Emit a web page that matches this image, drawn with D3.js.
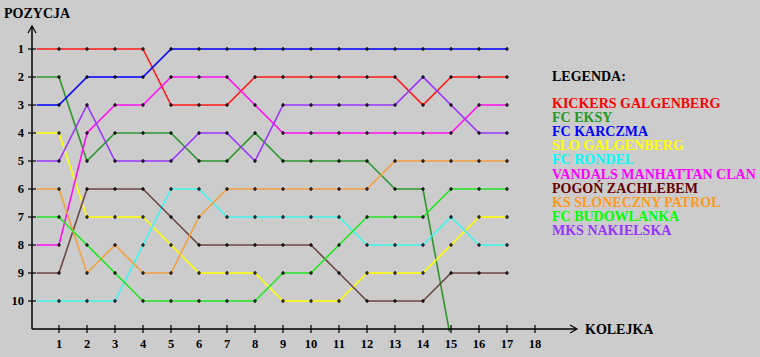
<!DOCTYPE html>
<html><head><meta charset="utf-8">
<script src="https://cdn.jsdelivr.net/npm/d3@7"></script>
<style>html,body{margin:0;padding:0;background:#cccccc;}svg{display:block;}</style>
</head><body>
<script>
// ---- data ----
const rounds = d3.range(1, 19);                 // KOLEJKA ticks 1..18
const positions = d3.range(1, 11);              // POZYCJA ticks 1..10
const startRound = 0.2;                         // line start before round 1
const teams = ["KICKERS GALGENBERG","FC EKSY","FC KARCZMA","SLO GALGENBERG","FC RONDEL",
  "VANDALS MANHATTAN CLAN","POGOŃ ZACHLEBEM","KS SLONECZNY PATROL","FC BUDOWLANKA","MKS NAKIELSKA"];
const lineColors = ["#ff1a1a","#2e962e","#0000ff","#ffff00","#3ff5ee","#ff10f0","#6e4646","#f2a040","#22e822","#9933ff"];
const textColors = ["#ff0000","#229922","#0000ff","#ffff00","#00ffff","#ff00ff","#660000","#ff9922","#00ff00","#9933ff"];
// positions at start, then rounds 1..17 (null = no entry; values > 10 = dropped off the table)
const kickers     = [1,1,1,1,1,3,3,3,2,2,2,2,2,2,3,2,2,2];
const eksy        = [2,2,5,4,4,4,5,5,4,5,5,5,5,6,6,11.4,null,null];
const karczma     = [3,3,2,2,2,1,1,1,1,1,1,1,1,1,1,1,1,1];
const slo         = [4,4,7,7,7,8,9,9,9,10,10,10,9,9,9,8,7,7];
const rondel      = [10,10,10,10,8,6,6,7,7,7,7,7,8,8,8,7,8,8];
const vandals     = [8,8,4,3,3,2,2,2,3,4,4,4,4,4,4,4,3,3];
const pogon       = [9,9,6,6,6,7,8,8,8,8,8,9,10,10,10,9,9,9];
const sloneczny   = [6,6,9,8,9,9,7,6,6,6,6,6,6,5,5,5,5,5];
const budowlanka  = [7,7,8,9,10,10,10,10,10,9,9,8,7,7,7,6,6,6];
const nakielska   = [5,5,3,5,5,5,4,4,5,3,3,3,3,3,2,3,4,4];
const series = [kickers,eksy,karczma,slo,rondel,vandals,pogon,sloneczny,budowlanka,nakielska];

// ---- layout ----
const W = 760, H = 357;
const svg = d3.select("body").append("svg").attr("width", W).attr("height", H);
const x = d3.scaleLinear().domain([0, 18]).range([31, 535]);
const y = d3.scaleLinear().domain([1, 10]).range([49, 301]);
const font = "'Liberation Serif','Times New Roman',serif";

svg.append("defs").append("clipPath").attr("id","plot")
  .append("rect").attr("x", 0).attr("y", 0).attr("width", W).attr("height", y(11.1));

// lines
const line = d3.line()
  .defined(d => d.v != null)
  .x(d => x(d.r)).y(d => y(d.v));
const g = svg.append("g").attr("clip-path","url(#plot)");
series.forEach((s, i) => {
  const pts = s.map((v, k) => ({r: k === 0 ? startRound : k, v}));
  g.append("path").datum(pts).attr("d", line)
    .attr("fill","none").attr("stroke", lineColors[i]).attr("stroke-width", 1.6);
});

// dots (small black crosses) at rounds 1..17
series.forEach(s => {
  s.forEach((v, k) => {
    if (k === 0 || v == null || v > 10) return;
    const cx = x(k), cy = y(v);
    svg.append("path").attr("d", `M${cx-2},${cy}H${cx+2}M${cx},${cy-2}V${cy+2}`)
      .attr("stroke","#000").attr("stroke-width",1.2);
  });
});

// axes
const axisG = svg.append("g").attr("stroke","#000").attr("stroke-width",1.5).attr("fill","none");
const x0 = x(0) + 1, yBase = y(11);
axisG.append("line").attr("x1", x0).attr("x2", x0).attr("y1", 26).attr("y2", yBase);
axisG.append("line").attr("x1", x0).attr("x2", 576).attr("y1", yBase).attr("y2", yBase);
axisG.append("path").attr("d", `M${x0-4},${33}L${x0},${26}L${x0+4},${33}`).attr("stroke-width",1.2);
axisG.append("path").attr("d", `M${570},${yBase-4}L${577},${yBase}L${570},${yBase+4}`).attr("stroke-width",1.2);

// y ticks + labels
const yAxis = svg.append("g");
positions.forEach(p => {
  yAxis.append("line").attr("x1", x0-4).attr("x2", x0+4).attr("y1", y(p)).attr("y2", y(p))
    .attr("stroke","#000").attr("stroke-width",1.2);
  yAxis.append("text").attr("x", 24).attr("y", y(p)).attr("dy","0.35em")
    .attr("text-anchor","end").attr("font-family", font).attr("font-weight","bold")
    .attr("font-size", 12.5).text(p);
});
// x ticks + labels
rounds.forEach(r => {
  svg.append("line").attr("x1", x(r)).attr("x2", x(r)).attr("y1", yBase-4).attr("y2", yBase+4)
    .attr("stroke","#000").attr("stroke-width",1.2);
  svg.append("text").attr("x", x(r)).attr("y", 348).attr("text-anchor","middle")
    .attr("font-family", font).attr("font-weight","bold").attr("font-size", 12.5).text(r);
});

// titles
svg.append("text").attr("x", 4).attr("y", 18).attr("font-family", font).attr("font-weight","bold")
  .attr("font-size", 14).text("POZYCJA");
svg.append("text").attr("x", 585).attr("y", yBase+5).attr("font-family", font).attr("font-weight","bold")
  .attr("font-size", 14).text("KOLEJKA");

// legend
svg.append("text").attr("x", 552).attr("y", 81).attr("font-family", font).attr("font-weight","bold")
  .attr("font-size", 14).attr("fill","#000").text("LEGENDA:");
teams.forEach((t, i) => {
  svg.append("text").attr("x", 552).attr("y", 108 + i*14.1).attr("font-family", font)
    .attr("font-weight","bold").attr("font-size", 14).attr("fill", textColors[i]).text(t);
});
</script>
</body></html>
